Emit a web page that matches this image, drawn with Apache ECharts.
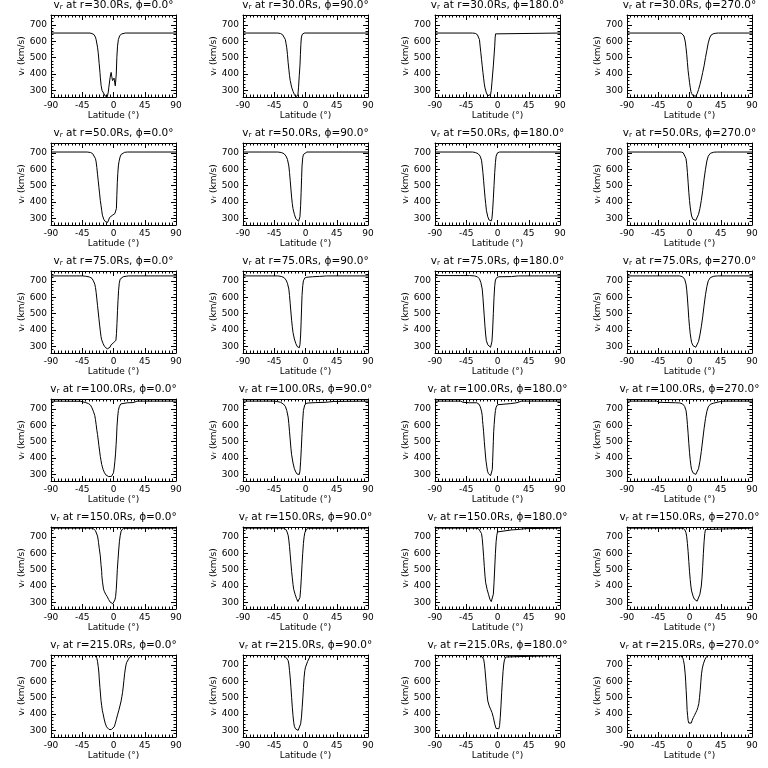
<!DOCTYPE html>
<html>
<head>
<meta charset="utf-8">
<script src="https://cdn.jsdelivr.net/npm/echarts@6/dist/echarts.min.js"></script>
<style>
html,body{margin:0;padding:0;background:#fff;}
#c{width:768px;height:768px;}
</style>
</head>
<body>
<div id="c"></div>
<script>
const radii = [30, 50, 75, 100, 150, 215];
const phis = [0, 90, 180, 270];
const xTicks = [-90, -45, 0, 45, 90];
const yTicks = [300, 400, 500, 600, 700];
const yMinorTicks = [260,280,320,340,360,380,420,440,460,480,520,540,560,580,620,640,660,680,720,740];

// [latitude (deg), v_r (km/s)]
const r30_phi0 = [[-90,650],[-34,650],[-31,647],[-28,640],[-26,625],[-25,610],[-23,564],[-22,530],[-20.6,463],[-19.5,410],[-19,381],[-17.8,330],[-16.5,300],[-15.4,290],[-12,266],[-9,261],[-7.5,290],[-6.7,320],[-4.8,381],[-3.4,410],[-2.5,385],[-1.4,360],[0,372],[0.8,375],[1.6,350],[2.6,328],[3.3,325],[4,400],[4.8,500],[5.8,570],[7,610],[9,635],[12,645],[17,650],[90,650]];
const r30_phi90 = [[-90,650],[-40,650],[-36,647],[-33,640],[-31,630],[-29,610],[-28,585],[-27,560],[-26,520],[-25,470],[-24,430],[-23,390],[-22,360],[-20,320],[-18,295],[-16,275],[-14,262],[-12,256],[-11,270],[-10,320],[-9,390],[-8,450],[-7.3,520],[-6.7,580],[-6,620],[-5,640],[-3.5,648],[-2,650],[90,650]];
const r30_phi180 = [[-90,650],[-36,650],[-32,648],[-29,640],[-27,628],[-26,610],[-25,570],[-24,530],[-23,490],[-22,450],[-21,410],[-20,375],[-19,340],[-18,315],[-16,285],[-14,268],[-12,258],[-10,275],[-9,300],[-8,350],[-7,400],[-6,450],[-5,510],[-4,570],[-3.4,620],[-2.8,645],[-2,650],[90,650]];
const r30_phi270 = [[-90,650],[-12,650],[-10,645],[-8,632],[-7,620],[-6,595],[-5,560],[-4,520],[-3,470],[-2,420],[-1,385],[0,350],[1,320],[2,295],[3,282],[5,268],[7,262],[9,265],[11,280],[13,305],[15,335],[17,370],[19,410],[21,450],[23,500],[25,545],[27,590],[29,620],[31,637],[34,645],[38,649],[42,650],[90,650]];

const r50_phi0 = [[-90,705],[-38,705],[-33,702],[-30,695],[-28,685],[-26,665],[-25,645],[-24,610],[-23,570],[-22,530],[-21,490],[-20,450],[-19,410],[-18,380],[-17,350],[-16,320],[-14,295],[-12,282],[-10,278],[-8.6,275],[-7,290],[-5.8,305],[-4,315],[-2,318],[0,322],[2,330],[3.5,338],[4.2,360],[4.8,440],[5.5,520],[6.2,575],[7,620],[8,648],[9.5,675],[11,690],[13,698],[16,703],[20,705],[90,705]];
const r50_phi90 = [[-90,705],[-40,705],[-35,702],[-31,695],[-28,680],[-26,660],[-24,620],[-23,580],[-22,530],[-21,480],[-20,430],[-19,390],[-18,360],[-16,325],[-14,300],[-12,288],[-10,282],[-9,285],[-8,310],[-7,380],[-6.3,460],[-5.6,550],[-5,620],[-4,670],[-3,690],[-1,700],[2,705],[90,705]];
const r50_phi180 = [[-90,705],[-36,705],[-32,702],[-28,695],[-25,680],[-23,655],[-22,620],[-21,580],[-20,530],[-19,480],[-18,430],[-17,390],[-16,350],[-14,310],[-12,290],[-10,282],[-9,285],[-8,300],[-7,350],[-6,420],[-5,500],[-4,580],[-3,640],[-2,680],[0,700],[3,705],[90,705]];
const r50_phi270 = [[-90,705],[-12,705],[-9,700],[-7,690],[-5,665],[-4,630],[-3,580],[-2,520],[-1,460],[0,410],[1,370],[2,340],[3,315],[5,295],[7,286],[9,288],[11,300],[13,325],[15,360],[17,410],[19,470],[21,540],[23,600],[25,650],[27,680],[30,697],[35,704],[40,705],[90,705]];

const r75_phi0 = [[-90,730],[-45,730],[-40,728],[-35,724],[-31,715],[-29,700],[-27,680],[-26,660],[-25,630],[-24,590],[-23,550],[-22,510],[-21,470],[-20,430],[-19,395],[-18,360],[-17,340],[-15,318],[-13,300],[-11,290],[-9,285],[-7,282],[-5,295],[-3.5,310],[-2,318],[0,322],[2,330],[3.5,338],[4.3,380],[5,440],[5.8,520],[6.5,580],[7.3,640],[8.3,685],[9.5,710],[11,720],[14,725],[18,728],[22,730],[90,730]];
const r75_phi90 = [[-90,730],[-40,730],[-35,727],[-31,720],[-28,705],[-26,685],[-24,650],[-23,610],[-22,560],[-21,510],[-20,460],[-19,420],[-18,385],[-16,345],[-14,318],[-12,300],[-10,290],[-9,292],[-8,310],[-7,370],[-6.3,450],[-5.6,540],[-5,610],[-4,670],[-3,700],[-1,718],[2,722],[10,725],[20,727],[30,730],[90,730]];
const r75_phi180 = [[-90,732],[-40,732],[-33,730],[-29,725],[-26,712],[-24,690],[-22,650],[-21,600],[-20,540],[-19,480],[-18,420],[-17,370],[-16,335],[-14,310],[-12,298],[-10,295],[-9,300],[-8,330],[-7,400],[-6,500],[-5,600],[-4,670],[-3,705],[-1,720],[2,725],[20,726],[30,730],[90,730]];
const r75_phi270 = [[-90,730],[-14,730],[-10,725],[-7,710],[-5,680],[-4,645],[-3,595],[-2,535],[-1,470],[0,420],[1,380],[2,350],[3,325],[5,305],[7,296],[9,295],[11,305],[13,330],[15,370],[17,420],[19,480],[21,550],[23,615],[25,665],[27,700],[30,720],[35,728],[40,730],[90,730]];

const r100_phi0 = [[-90,747],[-47,746],[-45,742],[-40,738],[-36,732],[-33,722],[-31,706],[-29,685],[-27,660],[-26,635],[-25,605],[-24,570],[-23,544],[-22,510],[-21,475],[-20,442],[-19,410],[-18,385],[-17,361],[-15,330],[-13,310],[-11,297],[-9,290],[-7,287],[-5,284],[-3,288],[-1.5,295],[0,310],[1,340],[2,380],[3,430],[3.8,483],[4.5,540],[5,590],[6,650],[7,690],[8.5,715],[10.5,730],[13,736],[20,737],[28,738],[31,742],[34,747],[90,747]];
const r100_phi90 = [[-90,747],[-45,747],[-40,744],[-36,740],[-32,730],[-29,715],[-27,690],[-25,650],[-24,610],[-23,560],[-22,510],[-21,460],[-20,420],[-18,370],[-16,335],[-14,315],[-12,302],[-10,297],[-9,300],[-8,320],[-7,380],[-6,460],[-5,550],[-4,630],[-3,690],[-1,725],[2,735],[15,738],[30,740],[40,745],[90,747]];
const r100_phi180 = [[-90,747],[-53,747],[-50,740],[-40,737],[-30,737],[-27,730],[-25,715],[-24,700],[-23,686],[-22,660],[-21.6,630],[-21,605],[-20,560],[-19,500],[-18,450],[-17,400],[-16.5,381],[-15.5,350],[-14.4,320],[-13,305],[-12,296],[-10,292],[-9,293],[-8,300],[-7.5,330],[-7,380],[-6.5,442],[-6,500],[-5.5,560],[-4.8,605],[-4,650],[-3,690],[-2,710],[0,725],[2.4,730],[19,732],[26,736],[30,740],[34,747],[90,747]];
const r100_phi270 = [[-90,747],[-47,747],[-44,740],[-20,737],[-14,736],[-10,730],[-7,715],[-5,690],[-4,655],[-3,605],[-2,550],[-1,490],[0,435],[1,390],[2,355],[3,330],[5,310],[7,302],[9,300],[11,310],[13,335],[15,380],[17,440],[19,510],[21,580],[23,640],[25,685],[27,712],[30,728],[35,735],[40,740],[45,745],[50,747],[90,747]];

const r150_phi0 = [[-90,753],[-30,753],[-28,748],[-26,738],[-24,726],[-23,705],[-22,680],[-21.6,665],[-20.5,630],[-19,584],[-18,530],[-17,490],[-16.8,463],[-16,430],[-15,400],[-14.4,381],[-13,365],[-11,348],[-9,335],[-7,318],[-5,303],[-3,295],[-1,292],[0,293],[1,300],[2,315],[3,335],[4,380],[4.8,442],[5.5,500],[6.5,560],[7.5,620],[8.5,670],[9.6,706],[11,735],[12,747],[14,752],[16,753],[90,753]];
const r150_phi90 = [[-90,753],[-32,753],[-29,748],[-27,735],[-25,710],[-24,680],[-23,640],[-22,590],[-21,540],[-20,490],[-19,450],[-18,410],[-17,380],[-15,350],[-13,325],[-11,305],[-10,300],[-9,305],[-8,330],[-7,380],[-6,450],[-5,530],[-4,600],[-3,660],[-2,700],[-1,725],[1,745],[4,752],[6,753],[90,753]];
const r150_phi180 = [[-90,753],[-30,753],[-27,748],[-25,738],[-23,720],[-22,690],[-21,640],[-20,580],[-19,520],[-18,460],[-17,420],[-15,380],[-13,350],[-11,320],[-9,305],[-8,300],[-7,310],[-6,350],[-5,420],[-4,510],[-3,600],[-2,670],[-1,710],[0,730],[2,740],[20,742],[30,745],[40,750],[90,753]];
const r150_phi270 = [[-90,753],[-10,753],[-7,745],[-5,725],[-4,700],[-3,660],[-2,610],[-1,550],[0,490],[1,440],[2,400],[3,370],[5,340],[7,320],[9,310],[11,308],[13,320],[15,350],[17,400],[18,450],[19,520],[20,600],[21,670],[22,720],[23,745],[25,753],[90,753]];

const r215_phi0 = [[-90,757],[-27,757],[-25,752],[-24,740],[-23,720],[-22,690],[-21,650],[-20.6,620],[-19.5,560],[-18.5,510],[-18,483],[-17,450],[-16,420],[-15,402],[-13.5,370],[-12,345],[-10,322],[-8.6,312],[-6.5,306],[-4.8,304],[-3,306],[-1,310],[1,322],[2.4,340],[4,365],[5.8,395],[7.5,420],[9.6,455],[11,480],[12,505],[13,530],[14,565],[15,605],[16,645],[17,675],[18,700],[19,715],[21,730],[23,745],[25,752],[27,757],[90,757]];
const r215_phi90 = [[-90,757],[-32,757],[-30,752],[-28,745],[-26,735],[-25,726],[-24,705],[-23,665],[-22,620],[-21,564],[-20,500],[-19,442],[-18,390],[-17,350],[-16,325],[-14.4,310],[-12.5,303],[-10.6,300],[-9,305],[-8,312],[-7,340],[-5.8,381],[-4.8,440],[-3.8,503],[-3,560],[-2,625],[-1,665],[0,686],[1,696],[3,720],[4.8,736],[6,748],[7.2,757],[90,757]];
const r215_phi180 = [[-90,757],[-24,757],[-22,750],[-20,735],[-19,710],[-18,670],[-17,620],[-16,570],[-15,520],[-14,480],[-12,450],[-10,430],[-8,410],[-6,380],[-4,340],[-2,312],[0,305],[2,310],[3,330],[4,380],[5,450],[6,530],[7,600],[8,660],[9,705],[10,730],[12,748],[14,757],[90,757]];
const r215_phi270 = [[-90,757],[-13,757],[-11,752],[-9.5,740],[-8.6,726],[-7.5,700],[-6.2,645],[-5.5,600],[-4.8,544],[-4,480],[-3.4,422],[-2.7,390],[-2,361],[-1,345],[0,340],[1.4,334],[2.5,345],[3.8,361],[5.5,378],[7.2,392],[9,408],[10.6,422],[12,440],[13.4,463],[14.4,500],[15.4,544],[16.4,600],[17.3,645],[18.5,680],[20,706],[22,730],[24,747],[26,754],[27,757],[90,757]];

const panels = [
  [r30_phi0, r30_phi90, r30_phi180, r30_phi270],
  [r50_phi0, r50_phi90, r50_phi180, r50_phi270],
  [r75_phi0, r75_phi90, r75_phi180, r75_phi270],
  [r100_phi0, r100_phi90, r100_phi180, r100_phi270],
  [r150_phi0, r150_phi90, r150_phi180, r150_phi270],
  [r215_phi0, r215_phi90, r215_phi180, r215_phi270]
];

const FONT = 'DejaVu Sans';
const BLACK = '#000';
const grids = [], xAxes = [], yAxes = [], series = [], graphics = [];
const subRich = { s: { fontSize: 7, fontFamily: FONT, color: BLACK, padding: [4, 0, 0, 0] } };

radii.forEach((r, ri) => {
  phis.forEach((p, ci) => {
    const gi = grids.length;
    const left = 51 + 192 * ci, top = 15 + 128 * ri;
    grids.push({ left: left, top: top, width: 125, height: 82, containLabel: false });
    const xBase = {
      gridIndex: gi, type: 'value', min: -90, max: 90, interval: 45,
      axisLine: { show: true, onZero: false, lineStyle: { color: BLACK, width: 1 } },
      axisTick: { show: true, inside: true, length: 5, lineStyle: { color: BLACK, width: 1 } },
      minorTick: { show: true, splitNumber: 9, length: 2.5, lineStyle: { color: BLACK, width: 1 } },
      splitLine: { show: false }
    };
    xAxes.push(Object.assign({}, xBase, {
      position: 'bottom',
      axisLabel: { show: true, fontSize: 9, fontFamily: FONT, color: BLACK, margin: 4, customValues: xTicks, showMinLabel: true, showMaxLabel: true },
      name: 'Latitude (°)', nameLocation: 'middle', nameGap: 14,
      nameTextStyle: { fontSize: 9, fontFamily: FONT, color: BLACK }
    }));
    xAxes.push(Object.assign({}, xBase, { position: 'top', axisLabel: { show: false } }));

    ['left', 'right'].forEach(side => {
      yAxes.push({
        gridIndex: gi, type: 'value', min: 260, max: 760, position: side,
        axisLine: { show: true, onZero: false, lineStyle: { color: BLACK, width: 1 } },
        axisTick: { show: true, inside: true, length: 5, customValues: yTicks, lineStyle: { color: BLACK, width: 1 } },
        axisLabel: side === 'left'
          ? { show: true, fontSize: 9, fontFamily: FONT, color: BLACK, margin: 4, customValues: yTicks }
          : { show: false },
        splitLine: { show: false },
        name: side === 'left' ? 'v{s|r} (km/s)' : '',
        nameLocation: 'middle', nameGap: 25, nameRotate: 90,
        nameTextStyle: { fontSize: 9, fontFamily: FONT, color: BLACK, rich: { s: { fontSize: 6, fontFamily: FONT, color: BLACK, padding: [3, 0, 0, 0] } } }
      });
      yAxes.push({
        gridIndex: gi, type: 'value', min: 260, max: 760, position: side,
        axisLine: { show: false, onZero: false },
        axisTick: { show: true, inside: true, length: 2.5, customValues: yMinorTicks, lineStyle: { color: BLACK, width: 1 } },
        axisLabel: { show: false },
        splitLine: { show: false }
      });
    });

    series.push({
      type: 'line', xAxisIndex: 2 * gi, yAxisIndex: 4 * gi,
      data: panels[ri][ci], symbol: 'none', showSymbol: false, smooth: false,
      clip: true, lineStyle: { color: BLACK, width: 1 }, animation: false
    });

    graphics.push({
      type: 'text', x: left + 62.5, y: 128 * ri - 0.5,
      style: {
        text: 'v{s|r} at r=' + r.toFixed(1) + 'Rs, ϕ=' + p.toFixed(1) + '°',
        fontSize: 10.5, fontFamily: FONT, fill: BLACK, align: 'center', verticalAlign: 'top',
        rich: subRich
      }
    });
  });
});

const chart = echarts.init(document.getElementById('c'), null, { renderer: 'canvas' });
chart.setOption({
  backgroundColor: '#fff',
  animation: false,
  grid: grids, xAxis: xAxes, yAxis: yAxes, series: series,
  graphic: graphics
});
</script>
</body>
</html>
